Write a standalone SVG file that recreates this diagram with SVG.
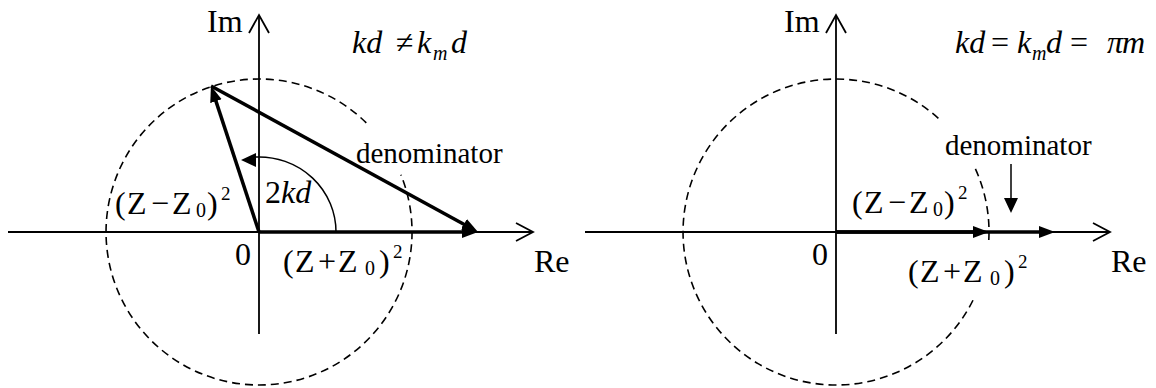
<svg xmlns="http://www.w3.org/2000/svg" width="1156" height="388" viewBox="0 0 1156 388">
<style>
text{fill:#000}
.lbl{font-size:32px}
.it{font-style:italic}
.den{font-size:29px}
.sub{font-size:20px}
.sup{font-size:19px}
.axis{stroke:#000;stroke-width:1.8;fill:none}
.open{stroke:#000;stroke-width:1.8;fill:none;stroke-linejoin:miter}
.circ{stroke:#000;stroke-width:1.6;fill:none;stroke-dasharray:8 5}
.vec{stroke:#000;stroke-width:3.5;fill:none}
.thin{stroke:#000;stroke-width:1.5;fill:none}
</style>
<defs>
<marker id="head" markerUnits="userSpaceOnUse" markerWidth="17" markerHeight="13" refX="4" refY="6.5" orient="auto" viewBox="0 0 17 13">
<path d="M0,0.5 L16,6.5 L0,12.5 z" fill="#000"/>
</marker>
<marker id="headS" markerUnits="userSpaceOnUse" markerWidth="15" markerHeight="14" refX="3" refY="7" orient="auto" viewBox="0 0 15 14">
<path d="M0,0 L15,7 L0,14 z" fill="#000"/>
</marker>
</defs>

<!-- LEFT PANEL -->
<g id="left-axes">
<line class="axis" x1="8" y1="232" x2="533" y2="232"/>
<polyline class="open" points="516,223 533,232 516,241"/>
<line class="axis" x1="259" y1="334" x2="259" y2="16"/>
<polyline class="open" points="249,33 259,15 269,33"/>
</g>
<g id="left-circle">
<path class="circ" d="M366.3,122.9 A153,153 0 1 0 400.9,174.7"/>
</g>
<g id="left-connectors">
<line class="vec" x1="259" y1="232" x2="466" y2="232" marker-end="url(#head)"/>
<line class="vec" x1="259" y1="232" x2="214.7" y2="97.4" marker-end="url(#head)"/>
<line class="vec" x1="211" y1="86" x2="467.5" y2="226.2" marker-end="url(#head)"/>
<path class="thin" d="M336,232 A77,75 0 0 0 256,157"/>
<polygon points="241,160 256,153 256,167" fill="#000"/>
</g>
<g id="left-labels" font-family="'Liberation Serif', 'Times New Roman', serif">
<text class="lbl" x="207" y="32">Im</text>
<text class="lbl" x="534" y="272">Re</text>
<text class="lbl" x="235" y="265">0</text>
<text class="den" x="356" y="163">denominator</text>
<text class="lbl" x="265" y="203">2<tspan class="it">kd</tspan></text>
<text class="lbl" x="352" y="53"><tspan class="it">kd</tspan><tspan x="396">≠</tspan><tspan class="it" x="417">k</tspan><tspan class="it sub" x="433" y="60">m</tspan><tspan class="it" x="451" y="53">d</tspan></text>
<text class="lbl" x="115" y="214">(<tspan x="127">Z</tspan><tspan x="151">−</tspan><tspan x="172">Z</tspan><tspan class="sub" x="196" y="217">0</tspan><tspan x="207" y="214">)</tspan><tspan class="sup" x="221" y="200">2</tspan></text>
<text class="lbl" x="283" y="272">(<tspan x="295">Z</tspan><tspan x="318">+</tspan><tspan x="338">Z</tspan><tspan class="sub" x="365" y="275">0</tspan><tspan x="379" y="272">)</tspan><tspan class="sup" x="393" y="258">2</tspan></text>
</g>

<!-- RIGHT PANEL -->
<g id="right-axes">
<line class="axis" x1="585" y1="232" x2="1110" y2="232"/>
<polyline class="open" points="1093,223 1110,232 1093,241"/>
<line class="axis" x1="836" y1="334" x2="836" y2="16"/>
<polyline class="open" points="826,33 836,15 846,33"/>
</g>
<g id="right-circle">
<path class="circ" d="M938.4,118.3 A153,153 0 1 0 974.7,296.7"/>
<path class="circ" d="M988.8,240 A153,153 0 0 0 974.7,167.3"/>
</g>
<g id="right-connectors">
<line class="vec" x1="836" y1="232" x2="1043" y2="232" marker-end="url(#head)"/>
<line class="vec" x1="836" y1="232" x2="977" y2="232" marker-end="url(#head)"/>
<line class="thin" x1="1011" y1="164" x2="1011" y2="201" marker-end="url(#headS)"/>
</g>
<g id="right-labels" font-family="'Liberation Serif', 'Times New Roman', serif">
<text class="lbl" x="784" y="32">Im</text>
<text class="lbl" x="1111" y="272">Re</text>
<text class="lbl" x="812" y="265">0</text>
<text class="den" x="945" y="155">denominator</text>
<text class="lbl" x="955" y="53"><tspan class="it">kd</tspan><tspan x="991">=</tspan><tspan class="it" x="1017">k</tspan><tspan class="it sub" x="1032" y="60">m</tspan><tspan class="it" x="1046" y="53">d</tspan><tspan x="1070">=</tspan><tspan class="it" x="1107">π</tspan><tspan class="it" x="1122">m</tspan></text>
<text class="lbl" x="852" y="213">(<tspan x="864">Z</tspan><tspan x="888">−</tspan><tspan x="909">Z</tspan><tspan class="sub" x="933" y="216">0</tspan><tspan x="944" y="213">)</tspan><tspan class="sup" x="958" y="199">2</tspan></text>
<text class="lbl" x="908" y="282">(<tspan x="920">Z</tspan><tspan x="943">+</tspan><tspan x="963">Z</tspan><tspan class="sub" x="990" y="285">0</tspan><tspan x="1004" y="282">)</tspan><tspan class="sup" x="1018" y="268">2</tspan></text>
</g>
</svg>
